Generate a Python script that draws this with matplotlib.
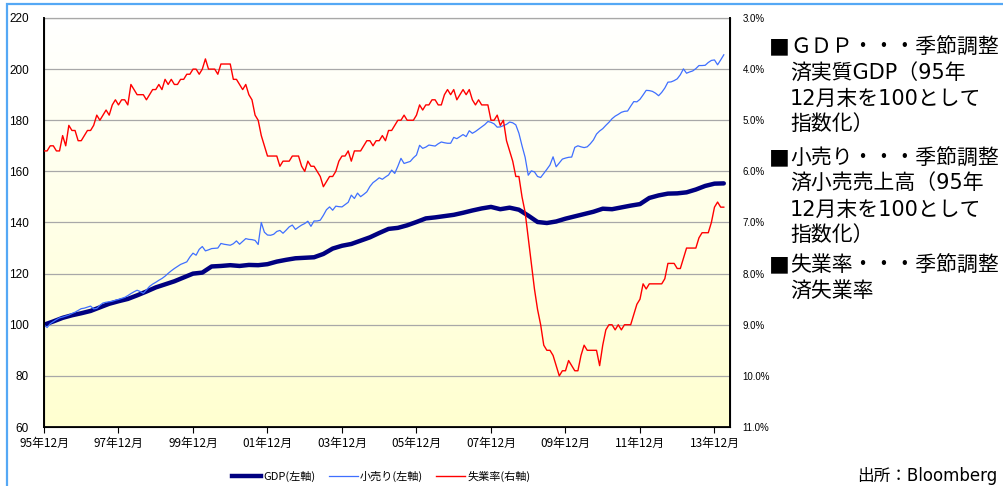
import numpy as np
import matplotlib
matplotlib.use("Agg")
import matplotlib.pyplot as plt
from matplotlib.lines import Line2D
from matplotlib.patches import Rectangle

plt.rcParams["font.family"] = ["Noto Sans CJK JP", "DejaVu Sans"]

# 月次データ 95年12月(0) ～ 14年3月(219)
retail = [
    100.0, 98.9, 100.4, 101.2, 102.0, 102.7, 103.0, 103.4, 103.8, 104.4,
    104.9, 105.6, 106.3, 106.5, 106.9, 107.3, 106.2, 106.4, 107.6, 108.5,
    108.8, 109.0, 109.2, 109.6, 109.9, 110.3, 110.7, 111.4, 112.2, 112.9,
    113.5, 113.0, 112.3, 113.6, 115.0, 115.9, 116.6, 117.4, 118.1, 119.0,
    120.1, 121.1, 122.0, 122.8, 123.6, 124.1, 124.6, 126.5, 128.0, 127.2,
    129.5, 130.6, 128.9, 129.3, 129.8, 129.9, 130.0, 131.8, 131.5, 131.3,
    131.1, 131.7, 132.8, 131.5, 132.6, 133.7, 133.4, 133.3, 133.0, 131.4,
    140.0, 136.2, 135.1, 135.0, 135.4, 136.5, 136.9, 135.8, 137.0, 138.3,
    139.0, 137.3, 138.2, 139.0, 139.6, 140.5, 138.5, 140.6, 140.6, 140.9,
    142.8, 145.0, 146.1, 144.8, 146.4, 146.2, 146.1, 147.0, 147.9, 150.7,
    149.4, 151.5, 150.1, 151.0, 152.0, 154.1, 155.6, 156.5, 157.5, 156.9,
    157.8, 158.6, 160.5, 159.2, 162.0, 165.1, 163.1, 163.5, 163.9, 165.3,
    166.4, 170.2, 169.0, 169.5, 170.3, 170.1, 169.9, 170.8, 171.5, 171.2,
    171.0, 171.0, 173.3, 172.8, 173.6, 174.4, 173.6, 175.9, 174.9, 175.6,
    176.5, 177.4, 178.3, 179.5, 179.2, 178.6, 177.3, 177.4, 177.9, 178.4,
    179.3, 179.0, 178.2, 174.9, 170.0, 165.5, 158.5, 160.2, 159.8, 158.0,
    157.6, 159.2, 160.8, 162.5, 165.7, 161.8, 163.3, 164.8, 165.2, 165.5,
    165.6, 169.4, 170.0, 169.6, 169.3, 169.6, 170.8, 172.3, 174.6, 175.8,
    176.7, 178.0, 179.2, 180.6, 181.6, 182.3, 183.1, 183.5, 183.6, 185.5,
    187.3, 187.2, 188.2, 189.9, 191.7, 191.6, 191.3, 190.6, 189.6, 190.9,
    192.6, 194.9, 195.0, 195.5, 196.2, 197.8, 200.1, 198.4, 198.9, 199.3,
    200.2, 201.4, 201.4, 201.5, 202.6, 203.4, 203.6, 201.7, 203.6, 205.6,
]

unemp = [
    5.6,
    5.6, 5.5, 5.5, 5.6, 5.6, 5.3, 5.5, 5.1, 5.2, 5.2, 5.4, 5.4,   # 96
    5.3, 5.2, 5.2, 5.1, 4.9, 5.0, 4.9, 4.8, 4.9, 4.7, 4.6, 4.7,   # 97
    4.6, 4.6, 4.7, 4.3, 4.4, 4.5, 4.5, 4.5, 4.6, 4.5, 4.4, 4.4,   # 98
    4.3, 4.4, 4.2, 4.3, 4.2, 4.3, 4.3, 4.2, 4.2, 4.1, 4.1, 4.0,   # 99
    4.0, 4.1, 4.0, 3.8, 4.0, 4.0, 4.0, 4.1, 3.9, 3.9, 3.9, 3.9,   # 00
    4.2, 4.2, 4.3, 4.4, 4.3, 4.5, 4.6, 4.9, 5.0, 5.3, 5.5, 5.7,   # 01
    5.7, 5.7, 5.7, 5.9, 5.8, 5.8, 5.8, 5.7, 5.7, 5.7, 5.9, 6.0,   # 02
    5.8, 5.9, 5.9, 6.0, 6.1, 6.3, 6.2, 6.1, 6.1, 6.0, 5.8, 5.7,   # 03
    5.7, 5.6, 5.8, 5.6, 5.6, 5.6, 5.5, 5.4, 5.4, 5.5, 5.4, 5.4,   # 04
    5.3, 5.4, 5.2, 5.2, 5.1, 5.0, 5.0, 4.9, 5.0, 5.0, 5.0, 4.9,   # 05
    4.7, 4.8, 4.7, 4.7, 4.6, 4.6, 4.7, 4.7, 4.5, 4.4, 4.5, 4.4,   # 06
    4.6, 4.5, 4.4, 4.5, 4.4, 4.6, 4.7, 4.6, 4.7, 4.7, 4.7, 5.0,   # 07
    5.0, 4.9, 5.1, 5.0, 5.4, 5.6, 5.8, 6.1, 6.1, 6.5, 6.8, 7.3,   # 08
    7.8, 8.3, 8.7, 9.0, 9.4, 9.5, 9.5, 9.6, 9.8, 10.0, 9.9, 9.9,  # 09
    9.7, 9.8, 9.9, 9.9, 9.6, 9.4, 9.5, 9.5, 9.5, 9.5, 9.8, 9.4,   # 10
    9.1, 9.0, 9.0, 9.1, 9.0, 9.1, 9.0, 9.0, 9.0, 8.8, 8.6, 8.5,   # 11
    8.2, 8.3, 8.2, 8.2, 8.2, 8.2, 8.2, 8.1, 7.8, 7.8, 7.8, 7.9,   # 12
    7.9, 7.7, 7.5, 7.5, 7.5, 7.5, 7.3, 7.2, 7.2, 7.2, 7.0, 6.7,   # 13
    6.6, 6.7, 6.7,                                                # 14
]

# 四半期 (3か月おき)
gdp = [
    100.0, 101.3, 102.7, 103.7, 104.5, 105.4, 106.8, 108.2, 109.2, 110.1,
    111.5, 113.0, 114.6, 115.8, 117.0, 118.5, 120.0, 120.4, 122.8, 123.0,
    123.3, 123.0, 123.4, 123.3, 123.7, 124.7, 125.4, 126.0, 126.2, 126.4,
    127.7, 129.8, 130.9, 131.6, 132.9, 134.2, 135.9, 137.5, 137.9, 138.9,
    140.2, 141.6, 142.0, 142.5, 143.0, 143.8, 144.7, 145.5, 146.1, 145.2,
    145.8, 145.0, 142.7, 140.2, 139.8, 140.4, 141.5, 142.4, 143.3, 144.2,
    145.4, 145.2, 145.9, 146.6, 147.2, 149.6, 150.6, 151.3, 151.4, 151.8,
    152.9, 154.3, 155.2, 155.3,
]

xlabels = ["95年12月", "97年12月", "99年12月", "01年12月", "03年12月",
           "05年12月", "07年12月", "09年12月", "11年12月", "13年12月"]

m = np.arange(len(retail))
mq = np.arange(len(gdp)) * 3

W, H = 1004, 486
fig = plt.figure(figsize=(W / 100, H / 100), dpi=100)
ax = fig.add_axes([44 / W, 59 / H, 686 / W, 409 / H])

# 背景グラデーション
grad = np.linspace(0, 1, 256).reshape(-1, 1)
top = np.array([1.0, 1.0, 1.0])
bot = np.array([255, 255, 208]) / 255
img = top + (bot - top) * grad[..., None]
ax.imshow(img, extent=[0, 1, 0, 1], transform=ax.transAxes, aspect="auto", zorder=0)

ax.plot(mq, gdp, color="#000080", lw=3.2, zorder=3, solid_capstyle="round")
ax.plot(m, retail, color="#3F6FFF", lw=0.9, zorder=4)

ax.set_xlim(0, 221)
ax.set_ylim(60, 220)
ax.set_yticks(range(60, 221, 20))
ax.yaxis.grid(True, color="#A8A8A8", lw=0.9)
ax.set_axisbelow(False)
ax.set_xticks(range(0, 217, 24))
ax.set_xticklabels(xlabels, fontsize=8.5)
ax.tick_params(axis="x", length=4, width=0.8, pad=3)
ax.tick_params(axis="y", length=0, pad=11, labelsize=8.5)
for t in ax.get_yticklabels():
    t.set_fontfamily("Liberation Sans")
for s in ("left", "bottom"):
    ax.spines[s].set_linewidth(1.4)
ax.spines["top"].set_color("#A0A0A0")
ax.spines["top"].set_linewidth(0.9)

ax2 = ax.twinx()
ax2.plot(m, unemp, color="#FF0000", lw=1.0, zorder=5)
ax2.set_ylim(11, 3)
ax2.set_yticks(range(3, 12))
ax2.set_yticklabels([f"{v:.1f}%" for v in range(3, 12)], fontsize=7, fontfamily="Liberation Sans")
ax2.tick_params(axis="y", length=0, pad=9)
ax2.spines["right"].set_linewidth(1.4)
ax2.spines["top"].set_visible(False)

# 凡例
handles = [
    Line2D([], [], color="#000080", lw=3.2),
    Line2D([], [], color="#3F6FFF", lw=0.9),
    Line2D([], [], color="#FF0000", lw=1.0),
]
fig.legend(handles, ["GDP(左軸)", "小売り(左軸)", "失業率(右軸)"],
           loc="lower center", bbox_to_anchor=(0.38, -0.012), ncol=3, frameon=False,
           fontsize=8, handlelength=2.6, handletextpad=0.2, columnspacing=1.2)

# 右側の説明文
mixed = ["DejaVu Sans", "Noto Sans CJK JP"]
blocks = [
    (["ＧＤＰ・・・季節調整", "済実質GDP（95年", "12月末を100として", "指数化）"], [48, 74, 99, 124]),
    (["小売り・・・季節調整", "済小売売上高（95年", "12月末を100として", "指数化）"], [159, 184, 210, 235]),
    (["失業率・・・季節調整", "済失業率"], [266, 291]),
]
for lines, ys in blocks:
    fig.text(769 / W, 1 - ys[0] / H, "■", fontsize=15, va="center", ha="left")
    for line, y in zip(lines, ys):
        fig.text(790 / W, 1 - y / H, line, fontsize=15, va="center", ha="left",
                 family=mixed)

fig.text(857 / W, 1 - 476 / H, "出所：Bloomberg", fontsize=12, va="center", ha="left",
         family=mixed)

# 外枠
fig.add_artist(Rectangle((7 / W, -0.05), 1.2, 1.05 - 4 / H, transform=fig.transFigure,
                         fill=False, edgecolor="#55A8F5", lw=1.6))

fig.savefig("out.png", dpi=100)
